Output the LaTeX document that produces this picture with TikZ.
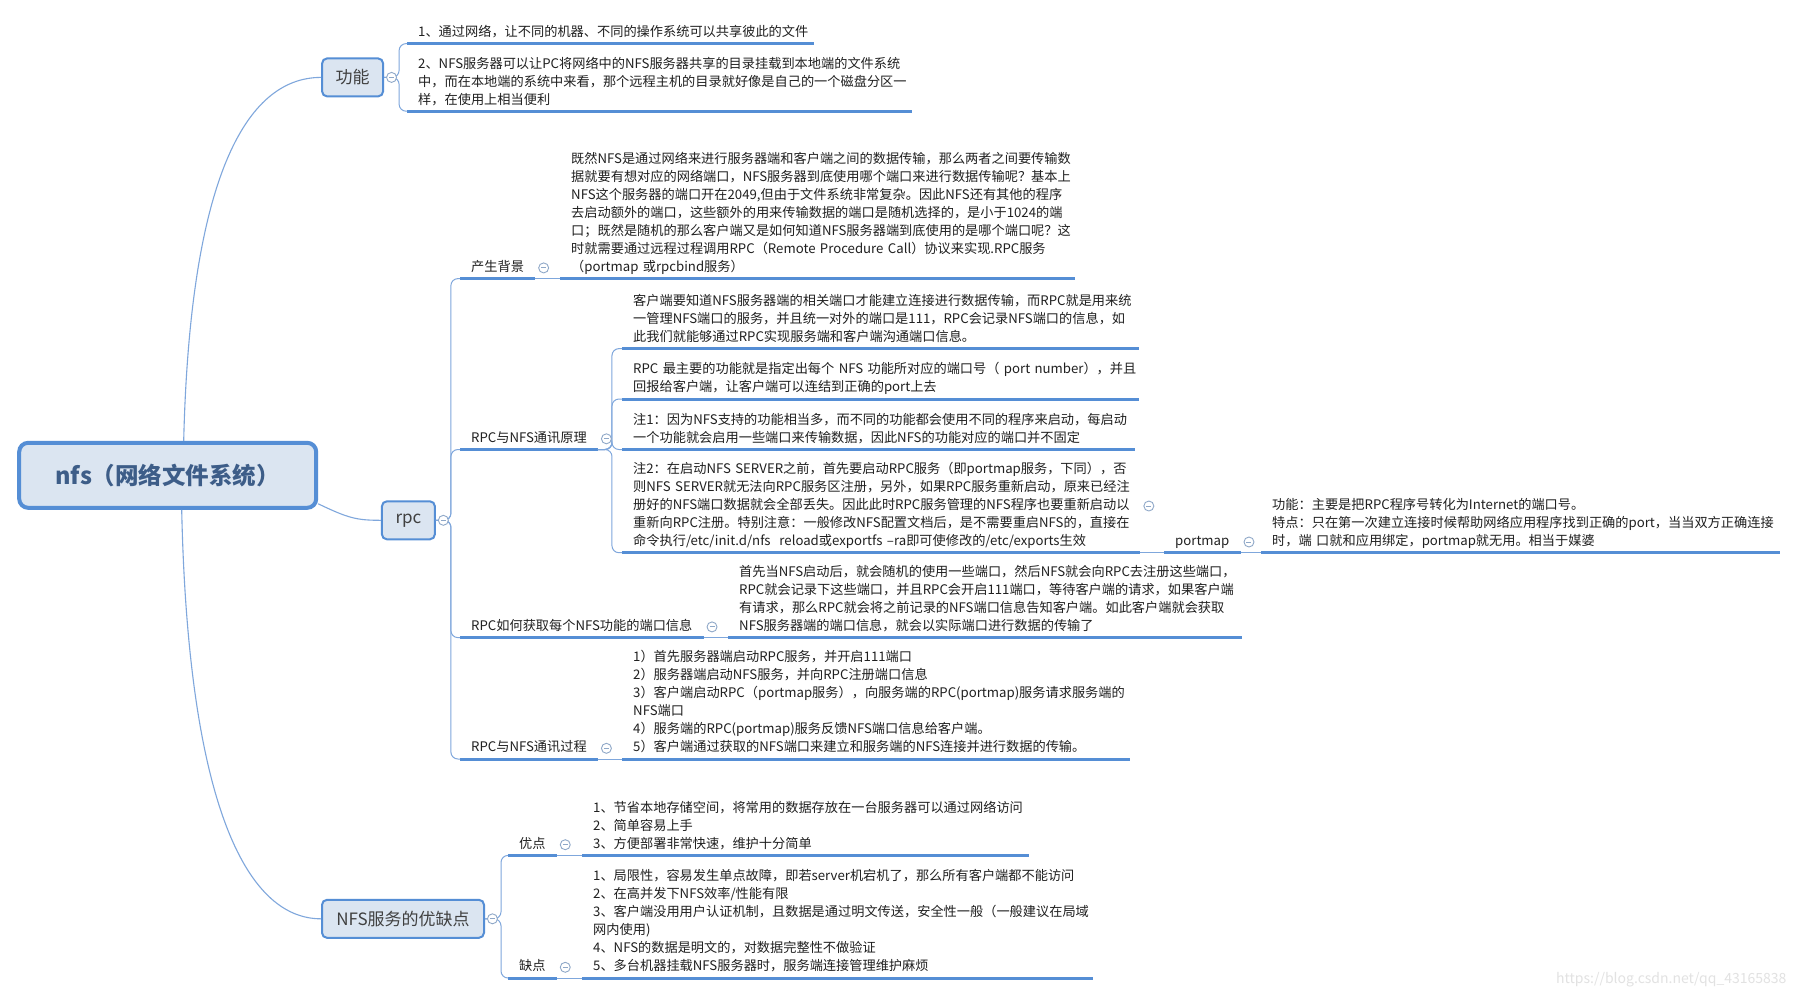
\documentclass[tikz,border=0pt]{standalone}
\usepackage{fontspec}
\usepackage{tikz}
\usetikzlibrary{calc,positioning}
\newfontfamily\cjk{Noto Sans CJK SC}
\definecolor{mapBlue}{HTML}{558ED5}
\definecolor{mapFill}{HTML}{DBE5F1}
\definecolor{linkBlue}{HTML}{7FA7DC}
\definecolor{rootText}{HTML}{3D5D88}
\definecolor{boxText}{HTML}{404040}
\definecolor{bodyText}{HTML}{202020}
\definecolor{foldGray}{HTML}{8FA8C8}
\definecolor{markGray}{HTML}{E2E2E2}
\hyphenpenalty=10000
\exhyphenpenalty=10000
\tikzset{
  mainbox/.style={draw=mapBlue, fill=mapFill, line width=4pt, rounded corners=9pt,
    font=\cjk\bfseries\fontsize{23.5}{28}\selectfont, text=rootText,
    minimum width=297pt, minimum height=65pt},
  subbox/.style={draw=mapBlue, fill=mapFill, line width=2pt, rounded corners=5pt,
    font=\cjk\fontsize{17}{20}\selectfont, text=boxText, minimum height=38pt, inner sep=0pt},
  topic/.style={anchor=south west, inner xsep=11pt, inner ysep=1.5pt,
    font=\cjk\fontsize{13.2}{18}\selectfont, text=bodyText, align=left,
    execute at begin node=\strut, execute at end node=\strut},
  uline/.style={draw=mapBlue, line width=3pt},
  link/.style={draw=linkBlue, line width=1pt, rounded corners=7pt},
  rootlink/.style={draw=linkBlue, line width=1.1pt},
  fold/.style={circle, draw=foldGray, fill=white, line width=0.9pt, minimum size=10pt, inner sep=0pt,
    path picture={\draw[foldGray, line width=0.9pt] ([xshift=2.5pt]path picture bounding box.west)
      -- ([xshift=-2.5pt]path picture bounding box.east);}},
}

\begin{document}
\begin{tikzpicture}[x=1pt,y=-1pt]
  \fill[white] (0,0) rectangle (1798,997);
  \useasboundingbox (0,0) rectangle (1798,997);

  \node[mainbox] (root) at (167.7,475.3) {nfs（网络文件系统）};
  \node[subbox, minimum width=61pt] (gn) at (352.6,77.4) {功能};
  \node[subbox, minimum width=53pt] (rpc) at (408.4,520.3) {rpc};
  \node[subbox, minimum width=162pt] (ys) at (403,918.8) {NFS服务的优缺点};

  % 功能
  \node[topic, text width=385pt] (g1) at (407,43.6) {1、通过网络，让不同的机器、不同的操作系统可以共享彼此的文件};
  \node[topic, text width=483pt] (g2) at (407,111.2) {2、NFS服务器可以让PC将网络中的NFS服务器共享的目录挂载到本地端的文件系统\\
    中，而在本地端的系统中来看，那个远程主机的目录就好像是自己的一个磁盘分区一\\
    样，在使用上相当便利};

  % rpc
  \node[topic] (bg) at (460,278.6) {产生背景};
  \node[topic, text width=492.5pt] (bgc) at (560,278.6) {既然NFS是通过网络来进行服务器端和客户端之间的数据传输，那么两者之间要传输数\\
    据就要有想对应的网络端口，NFS服务器到底使用哪个端口来进行数据传输呢？基本上\\
    NFS这个服务器的端口开在2049,但由于文件系统非常复杂。因此NFS还有其他的程序\\
    去启动额外的端口，这些额外的用来传输数据的端口是随机选择的，是小于1024的端\\
    口；既然是随机的那么客户端又是如何知道NFS服务器端到底使用的是哪个端口呢？这\\
    时就需要通过远程过程调用RPC（Remote~Procedure~Call）协议来实现.RPC服务\\
    （portmap~或rpcbind服务）};
  \node[topic] (yl) at (460,449.5) {RPC与NFS通讯原理};
  \node[topic, text width=494.7pt] (p1) at (622,348.6) {客户端要知道NFS服务器端的相关端口才能建立连接进行数据传输，而RPC就是用来统\\
    一管理NFS端口的服务，并且统一对外的端口是111，RPC会记录NFS端口的信息，如\\
    此我们就能够通过RPC实现服务端和客户端沟通端口信息。};
  \node[topic, text width=494.7pt] (p2) at (622,399) {RPC~最主要的功能就是指定出每个~NFS~功能所对应的端口号（~port~number），并且\\
    回报给客户端，让客户端可以连结到正确的port上去};
  \node[topic, text width=491pt] (p3) at (622,449.5) {注1：因为NFS支持的功能相当多，而不同的功能都会使用不同的程序来启动，每启动\\
    一个功能就会启用一些端口来传输数据，因此NFS的功能对应的端口并不固定};
  \node[topic, text width=496pt] (p4) at (622,552.7) {注2：在启动NFS~SERVER之前，首先要启动RPC服务（即portmap服务，下同），否\\
    则NFS~SERVER就无法向RPC服务区注册，另外，如果RPC服务重新启动，原来已经注\\
    册好的NFS端口数据就会全部丢失。因此此时RPC服务管理的NFS程序也要重新启动以\\
    重新向RPC注册。特别注意：一般修改NFS配置文档后，是不需要重启NFS的，直接在\\
    命令执行/etc/init.d/nfs~~reload或exportfs~–ra即可使修改的/etc/exports生效};
  \node[topic] (pm) at (1164,552.7) {portmap};
  \node[topic, text width=497pt] (pmc) at (1261,552.7) {功能：主要是把RPC程序号转化为Internet的端口号。\\
    特点：只在第一次建立连接时候帮助网络应用程序找到正确的port，当当双方正确连接\\
    时，端~口就和应用绑定，portmap就无用。相当于媒婆};
  \node[topic] (hq) at (460,637.6) {RPC如何获取每个NFS功能的端口信息};
  \node[topic, text width=492pt] (hqc) at (728,637.6) {首先当NFS启动后，就会随机的使用一些端口，然后NFS就会向RPC去注册这些端口，\\
    RPC就会记录下这些端口，并且RPC会开启111端口，等待客户端的请求，如果客户端\\
    有请求，那么RPC就会将之前记录的NFS端口信息告知客户端。如此客户端就会获取\\
    NFS服务器端的端口信息，就会以实际端口进行数据的传输了};
  \node[topic] (gc) at (460,759) {RPC与NFS通讯过程};
  \node[topic, text width=485.5pt] (gcc) at (622,759) {1）首先服务器端启动RPC服务，并开启111端口\\
    2）服务器端启动NFS服务，并向RPC注册端口信息\\
    3）客户端启动RPC（portmap服务），向服务端的RPC(portmap)服务请求服务端的\\
    NFS端口\\
    4）服务端的RPC(portmap)服务反馈NFS端口信息给客户端。\\
    5）客户端通过获取的NFS端口来建立和服务端的NFS连接并进行数据的传输。};

  % 优缺点
  \node[topic] (yd) at (508,855.4) {优点};
  \node[topic, text width=424.6pt] (ydc) at (582,855.4) {1、节省本地存储空间，将常用的数据存放在一台服务器可以通过网络访问\\
    2、简单容易上手\\
    3、方便部署非常快速，维护十分简单};
  \node[topic] (qd) at (508,978) {缺点};
  \node[topic, text width=488.8pt] (qdc) at (582,978) {1、局限性，容易发生单点故障，即若server机宕机了，那么所有客户端都不能访问\\
    2、在高并发下NFS效率/性能有限\\
    3、客户端没用用户认证机制，且数据是通过明文传送，安全性一般（一般建议在局域\\
    网内使用)\\
    4、NFS的数据是明文的，对数据完整性不做验证\\
    5、多台机器挂载NFS服务器时，服务端连接管理维护麻烦};

  \foreach \n in {g1,g2,bg,bgc,yl,p1,p2,p3,p4,pm,pmc,hq,hqc,gc,gcc,yd,ydc,qd,qdc}
    \draw[uline] (\n.south west) -- (\n.south east);

  \draw[rootlink] ([xshift=16pt]root.north) .. controls (190,180) and (245,77.4) .. (gn.west);
  \draw[rootlink] ([xshift=14pt]root.south) .. controls (188,800) and (245,918.8) .. (ys.west);
  \draw[rootlink] ([yshift=6pt]root.south east) .. controls (348,518) and (356,520.3) .. (rpc.west);

  \foreach \c in {g1,g2}
    \draw[link] (gn.east) -- ++(15,0) |- (\c.south west);
  \foreach \c in {bg,yl,hq,gc}
    \draw[link] (rpc.east) -- ++(15,0) |- (\c.south west);
  \foreach \c in {p1,p2,p3,p4}
    \draw[link] (yl.south east) -- ++(14,0) |- (\c.south west);
  \foreach \c in {yd,qd}
    \draw[link] (ys.east) -- ++(16,0) |- (\c.south west);
  \draw[link] (bg.south east) -- (bgc.south west);
  \draw[link] (hq.south east) -- (hqc.south west);
  \draw[link] (gc.south east) -- (gcc.south west);
  \draw[link] (p4.south east) -- (pm.south west);
  \draw[link] (pm.south east) -- (pmc.south west);
  \draw[link] (yd.south east) -- (ydc.south west);
  \draw[link] (qd.south east) -- (qdc.south west);

  \node[fold, right=2pt of gn] (gn-f) {};
  \node[fold, right=2pt of rpc] (rpc-f) {};
  \node[fold, right=2pt of ys] (ys-f) {};
  \foreach \n in {bg,yl,hq,gc,p4,pm,yd,qd}
    \node[fold, right=3pt of \n] (\n-f) {};

  \node[anchor=east, font=\cjk\fontsize{14}{17}\selectfont, text=markGray] (mark) at (1790,980) {https://blog.csdn.net/qq\_43165838};
\end{tikzpicture}
\end{document}
